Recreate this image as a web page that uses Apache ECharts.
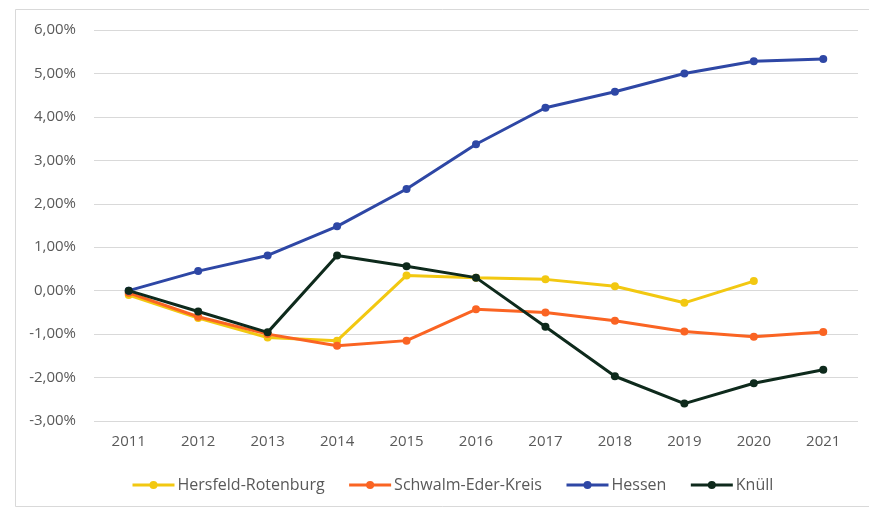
<!DOCTYPE html>
<html>
<head>
<meta charset="utf-8">
<script src="https://cdn.jsdelivr.net/npm/echarts@6/dist/echarts.min.js"></script>
<style>
  html, body { margin: 0; padding: 0; background: #ffffff; }
  #chart { width: 869px; height: 510px; }
</style>
</head>
<body>
<div id="chart"></div>
<script>
// Years on the x axis
const years = ['2011', '2012', '2013', '2014', '2015', '2016', '2017', '2018', '2019', '2020', '2021'];

// Change relative to 2011, in percent
const hersfeldRotenburg = [-0.10, -0.63, -1.08, -1.15, 0.35, 0.30, 0.26, 0.10, -0.28, 0.22, null];
const schwalmEderKreis = [-0.05, -0.60, -1.00, -1.27, -1.15, -0.43, -0.50, -0.69, -0.94, -1.06, -0.95];
const hessen = [0.00, 0.45, 0.81, 1.48, 2.34, 3.37, 4.21, 4.58, 5.00, 5.28, 5.33];
const knuell = [0.00, -0.48, -0.96, 0.81, 0.56, 0.30, -0.83, -1.97, -2.60, -2.13, -1.82];

// Y axis range and step, in percent
const yMin = -3;
const yMax = 6;
const yStep = 1;

const seriesNames = ['Hersfeld-Rotenburg', 'Schwalm-Eder-Kreis', 'Hessen', 'Knüll'];
const seriesColors = ['#F2C811', '#FA6423', '#2E47A5', '#0E2A1C'];
const seriesData = [hersfeldRotenburg, schwalmEderKreis, hessen, knuell];

const fontFamily = '"Open Sans", "Liberation Sans", sans-serif';
const textColor = '#595959';

const chart = echarts.init(document.getElementById('chart'), null, { renderer: 'canvas' });

chart.setOption({
  backgroundColor: '#ffffff',
  animation: false,
  graphic: [{
    type: 'rect',
    left: 13,
    top: 7,
    shape: { width: 880, height: 497 },
    style: { fill: 'none', stroke: '#D9D9D9', lineWidth: 1 },
    silent: true
  }],
  grid: { left: 94, right: 11, top: 30, bottom: 89 },
  legend: {
    data: seriesNames,
    top: 472,
    left: 126,
    itemWidth: 42,
    itemHeight: 10,
    itemGap: 23,
    lineStyle: { width: 3 },
    textStyle: { color: textColor, fontSize: 16, fontFamily: fontFamily, padding: [0, 0, 0, -2] }
  },
  xAxis: {
    type: 'category',
    data: years,
    boundaryGap: true,
    axisLine: { show: false },
    axisTick: { show: false },
    axisLabel: { color: textColor, fontSize: 15, fontFamily: fontFamily, margin: 13 }
  },
  yAxis: {
    type: 'value',
    min: yMin,
    max: yMax,
    interval: yStep,
    axisLine: { show: false },
    axisTick: { show: false },
    splitLine: { lineStyle: { color: '#D9D9D9', width: 1 } },
    axisLabel: {
      color: textColor,
      fontSize: 15,
      fontFamily: fontFamily,
      margin: 18,
      formatter: v => v.toFixed(2).replace('.', ',') + '%'
    }
  },
  series: seriesData.map((d, i) => ({
    name: seriesNames[i],
    type: 'line',
    data: d,
    color: seriesColors[i],
    symbol: 'circle',
    symbolSize: 8,
    showAllSymbol: true,
    connectNulls: false,
    lineStyle: { width: 3, color: seriesColors[i] },
    itemStyle: { color: seriesColors[i] },
    z: i === 3 ? 5 : 2 + i
  }))
});
</script>
</body>
</html>
